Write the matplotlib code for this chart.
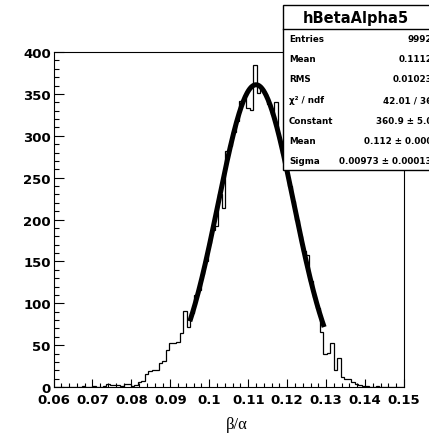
import numpy as np
import matplotlib
matplotlib.use('Agg')
import matplotlib.pyplot as plt
from matplotlib.ticker import MultipleLocator, FixedLocator, FixedFormatter
from matplotlib.patches import Rectangle
from matplotlib.lines import Line2D

# histogram hBetaAlpha5: 100 bins between 0.06 and 0.15
x_lo, x_hi, n_bins = 0.06, 0.15, 100
counts = [0, 0, 0, 0, 0, 0, 0, 0, 1, 0,
          0, 1, 0, 0, 1, 3, 2, 2, 2, 1,
          4, 3, 1, 2, 6, 7, 15, 19, 20, 20,
          29, 31, 44, 52, 53, 54, 65, 91, 72, 88,
          110, 116, 135, 150, 172, 188, 192, 230, 214, 282,
          288, 305, 318, 342, 345, 333, 331, 384, 351, 356,
          350, 338, 326, 340, 296, 279, 262, 240, 222, 200,
          180, 162, 158, 126, 108, 94, 66, 40, 41, 53,
          20, 35, 12, 10, 9, 6, 3, 2, 1, 1,
          0, 0, 1, 0, 0, 0, 0, 0, 0, 0]

# gaussian fit results (from the stats box)
fit_const, fit_mean, fit_sigma = 360.9, 0.112, 0.00973
fit_range = (0.095, 0.1295)

x_ticks = [0.06, 0.07, 0.08, 0.09, 0.10, 0.11, 0.12, 0.13, 0.14, 0.15]
x_labels = ['0.06', '0.07', '0.08', '0.09', '0.1', '0.11', '0.12', '0.13', '0.14', '0.15']
y_ticks = [0, 50, 100, 150, 200, 250, 300, 350, 400]
y_labels = ['0', '50', '100', '150', '200', '250', '300', '350', '400']

stat_names = ['Entries', 'Mean', 'RMS', 'χ² / ndf', 'Constant', 'Mean', 'Sigma']
stat_values = ['9992', '0.1112', '0.01023', '42.01 / 36', '360.9 ± 5.0',
               '0.112 ± 0.000', '0.00973 ± 0.00013']

W, H = 429, 435
fig = plt.figure(figsize=(W / 100, H / 100), dpi=100)
ax = fig.add_axes([53.5 / W, 1 - 388 / H, (404 - 53.5) / W, (388 - 53) / H])

edges = np.linspace(x_lo, x_hi, n_bins + 1)
ax.stairs(counts, edges, color='black', lw=0.9)

xf = np.linspace(fit_range[0], fit_range[1], 200)
ax.plot(xf, fit_const * np.exp(-0.5 * ((xf - fit_mean) / fit_sigma) ** 2),
        color='black', lw=3.6, solid_capstyle='butt')

ax.set_xlim(x_lo, x_hi)
ax.set_ylim(0, 400)
ax.xaxis.set_major_locator(FixedLocator(x_ticks))
ax.xaxis.set_major_formatter(FixedFormatter(x_labels))
ax.yaxis.set_major_locator(FixedLocator(y_ticks))
ax.yaxis.set_major_formatter(FixedFormatter(y_labels))
ax.xaxis.set_minor_locator(MultipleLocator(0.002))
ax.yaxis.set_minor_locator(MultipleLocator(10))
ax.tick_params(axis='both', which='both', direction='in', color='black', width=0.8)
ax.tick_params(axis='x', which='major', length=5.5, pad=4)
ax.tick_params(axis='x', which='minor', length=3)
ax.tick_params(axis='y', which='major', length=7.5, pad=2)
ax.tick_params(axis='y', which='minor', length=3.5)
for lab in ax.get_xticklabels() + ax.get_yticklabels():
    lab.set_fontfamily('DejaVu Sans')
    lab.set_fontweight('bold')
    lab.set_fontsize(9.5)
for s in ax.spines.values():
    s.set_linewidth(0.8)

fig.text(237 / W, 1 - 425 / H, 'β/α', family='Liberation Serif', fontsize=12,
         ha='center', va='center')

# stats box, cut off at the right border like in the original
box_l, box_t, box_b = 283 / W, 1 - 6 / H, 1 - 171 / H
fig.add_artist(Rectangle((box_l, box_b), 0.6, box_t - box_b, transform=fig.transFigure,
                         facecolor='white', edgecolor='black', lw=1.0, zorder=10))
fig.add_artist(Line2D([box_l, 1.2], [1 - 30 / H] * 2, transform=fig.transFigure,
                      color='black', lw=1.0, zorder=11))
fig.text(356 / W, 1 - 18 / H, 'hBetaAlpha5', fontsize=10.5, fontweight='bold',
         ha='center', va='center', zorder=12)
for i, (name, val) in enumerate(zip(stat_names, stat_values)):
    y = 1 - (39 + 20.5 * i) / H
    fig.text(289 / W, y, name, fontsize=6.3, fontweight='bold', ha='left', va='center', zorder=12)
    fig.text(432 / W, y, val, fontsize=6.3, fontweight='bold', ha='right', va='center', zorder=12)

fig.savefig('out.png', dpi=100)
